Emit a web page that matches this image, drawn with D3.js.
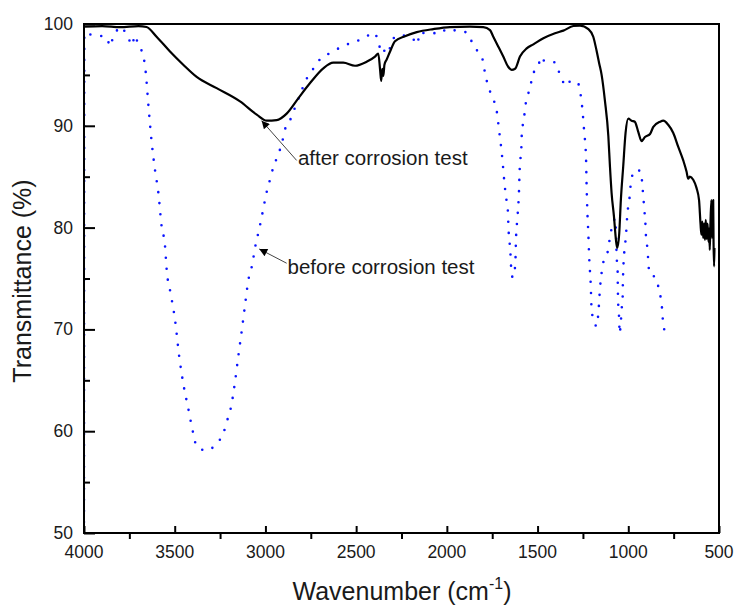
<!DOCTYPE html>
<html>
<head>
<meta charset="utf-8">
<script src="https://cdn.jsdelivr.net/npm/d3@7"></script>
<style>
body { margin: 0; background: #fff; }
text { font-family: "Liberation Sans", Arial, sans-serif; fill: #1a1a1a; }
</style>
</head>
<body>
<svg id="chart" width="735" height="606"></svg>
<script>
// wavenumber (cm-1), transmittance (%)
var afterTest = [
    [4000,99.75],[3900,99.8],[3800,99.7],[3700,99.8],[3655,99.7],[3600,98.75],[3526,97.3],
    [3453,96.0],[3379,94.8],[3269,93.7],[3140,92.4],[3048,91.1],[2993,90.5],[2938,90.55],
    [2883,91.2],[2819,92.7],[2754,94.2],[2681,95.65],[2626,96.2],[2571,96.2],[2506,95.9],
    [2442,96.3],[2396,96.8],[2378,97.1],[2368,95.5],[2362,94.4],[2356,95.6],[2350,94.9],
    [2344,96.0],[2332,96.5],[2313,97.3],[2286,98.3],[2231,98.8],[2166,99.2],[2075,99.5],
    [1983,99.7],[1873,99.75],[1799,99.7],[1762,99.4],[1744,98.75],[1717,97.8],[1689,96.8],
    [1662,95.8],[1643,95.5],[1624,95.6],[1597,96.8],[1560,97.6],[1523,98.0],[1468,98.6],
    [1404,99.1],[1358,99.35],[1303,99.8],[1266,99.85],[1220,99.5],[1193,98.75],[1175,97.4],
    [1160,96.1],[1147,95.0],[1129,92.5],[1110,89.0],[1101,86.0],[1092,83.4],[1079,81.1],
    [1068,78.8],[1061,78.0],[1050,79.4],[1041,82.7],[1028,86.0],[1015,89.3],[1000,90.7],
    [982,90.5],[964,90.4],[945,89.4],[927,88.5],[908,88.9],[880,89.2],[862,89.9],[825,90.4],
    [807,90.5],[780,90.1],[752,89.3],[725,87.95],[697,86.6],[679,85.5],[670,84.8],[661,85.0],
    [642,84.7],[624,83.9],[610,82.7],[602,80.4],[597,79.3],[592,80.6],[587,79.0],[582,80.4],
    [577,78.8],[573,80.75],[568,78.9],[563,80.4],[558,78.6],[554,79.9],[551,77.8],[547,80.5],
    [542,82.7],[539,79.0],[535,82.2],[532,82.7],[530,78.5],[527,76.2],[525,78.0]
];

var beforeTest = [
    [4000,50],[3998,99.1],[3950,98.9],[3900,98.8],[3870,98.6],[3860,97.8],[3845,98.4],
    [3825,99.0],[3810,99.7],[3790,99.6],[3765,98.9],[3750,98.4],[3735,97.9],[3720,98.9],
    [3700,97.9],[3683,97.4],[3670,96.6],[3660,95.3],[3645,92.0],[3627,88.4],[3609,85.7],
    [3590,83.4],[3572,80.1],[3554,78.3],[3544,75.8],[3522,73.5],[3498,70.9],[3475,67.3],
    [3453,64.7],[3425,62.2],[3398,59.8],[3379,58.5],[3324,58.1],[3269,58.8],[3232,59.8],
    [3210,61.1],[3190,62.35],[3168,64.8],[3150,67.3],[3131,69.8],[3113,72.3],[3094,74.85],
    [3076,76.1],[3052,78.5],[3035,79.8],[3021,81.0],[3008,82.2],[2993,83.5],[2975,84.7],
    [2957,85.9],[2929,87.2],[2909,88.3],[2892,89.65],[2855,90.9],[2837,91.8],[2810,93.0],
    [2782,94.3],[2740,95.5],[2696,96.6],[2635,97.2],[2577,97.8],[2516,98.2],[2457,98.6],
    [2402,99.15],[2378,98.3],[2359,97.1],[2341,97.4],[2323,97.1],[2304,98.4],[2258,98.9],
    [2212,98.75],[2185,98.5],[2161,98.0],[2152,99.15],[2112,99.1],[2071,99.1],[2029,99.1],
    [2005,99.5],[1974,99.4],[1937,99.35],[1891,99.15],[1872,98.6],[1845,97.6],[1817,97.1],
    [1799,96.2],[1790,95.2],[1772,93.9],[1750,92.8],[1726,91.55],[1717,90.3],[1707,88.8],
    [1698,87.45],[1689,85.7],[1683,84.45],[1670,82.5],[1663,81.46],[1661,80.2],[1656,78.9],
    [1650,77.6],[1645,75.9],[1637,75.1],[1623,76.3],[1619,78.8],[1610,81.2],[1602,83.8],
    [1600,85.0],[1597,86.3],[1590,87.45],[1588,88.8],[1582,90.0],[1575,90.7],[1569,91.7],
    [1560,92.7],[1545,93.5],[1533,94.5],[1527,95.2],[1510,95.4],[1491,96.2],[1478,96.8],
    [1465,96.4],[1450,96.3],[1422,96.3],[1395,96.1],[1382,95.3],[1367,94.6],[1340,93.9],
    [1318,94.4],[1281,94.3],[1263,93.1],[1254,91.8],[1243,89.4],[1233,86.9],[1230,84.35],
    [1226,81.8],[1220,79.3],[1215,76.9],[1207,74.4],[1202,71.9],[1187,70.7],[1175,70.3],
    [1165,71.6],[1156,74.0],[1138,76.55],[1110,77.9],[1101,79.1],[1083,80.4],[1073,80.9],
    [1067,79.0],[1064,77.1],[1059,76.0],[1058,74.7],[1057,73.5],[1055,72.2],[1050,70.9],
    [1048,69.6],[1041,70.75],[1037,71.9],[1031,73.2],[1030,74.4],[1028,75.7],[1025,76.9],
    [1019,78.1],[1012,79.4],[1008,80.6],[1001,82.0],[992,83.1],[986,84.35],[964,85.65],
    [930,85.55],[923,84.25],[917,83.0],[912,81.8],[906,80.55],[903,79.3],[895,78.0],
    [890,76.8],[884,75.5],[844,75.0],[831,73.8],[816,72.5],[811,71.25],[802,70.0]
];

var xMajorTicks = [4000, 3500, 3000, 2500, 2000, 1500, 1000, 500];
var xMinorTicks = [3750, 3250, 2750, 2250, 1750, 1250, 750];
var yMajorTicks = [50, 60, 70, 80, 90, 100];
var yMinorTicks = [55, 65, 75, 85, 95];

// label text, label position [wn, T], arrow tail [wn, T], arrow tip [wn, T]
var notes = [
    {text: 'after corrosion test', at: [2821, 86.15], tail: [2828, 86.6], tip: [3021, 90.5]},
    {text: 'before corrosion test', at: [2878, 75.45], tail: [2883, 76.5], tip: [3034, 77.9]}
];

var svg = d3.select('#chart');
var plotL = 84, plotT = 24, plotR = 719, plotB = 533;

var x = d3.scaleLinear().domain([4000, 500]).range([plotL, plotR]);
var y = d3.scaleLinear().domain([50, 100]).range([plotB, plotT]);

var line = d3.line()
    .curve(d3.curveMonotoneX)
    .x(function(d) { return x(d[0]); })
    .y(function(d) { return y(d[1]); });

svg.append('clipPath').attr('id', 'plotclip')
    .append('rect')
    .attr('x', plotL).attr('y', plotT - 1)
    .attr('width', plotR - plotL).attr('height', plotB - plotT + 1);

var plot = svg.append('g').attr('clip-path', 'url(#plotclip)');

plot.append('path')
    .datum(beforeTest)
    .attr('d', line)
    .attr('fill', 'none')
    .attr('stroke', '#0a14ff')
    .attr('stroke-width', 2.6)
    .attr('stroke-linecap', 'round')
    .attr('stroke-dasharray', '0 11');

plot.append('path')
    .datum(afterTest)
    .attr('d', line)
    .attr('fill', 'none')
    .attr('stroke', '#000')
    .attr('stroke-width', 2.2)
    .attr('stroke-linejoin', 'round');

// frame
svg.append('rect')
    .attr('x', plotL).attr('y', plotT)
    .attr('width', plotR - plotL).attr('height', plotB - plotT)
    .attr('fill', 'none').attr('stroke', '#000').attr('stroke-width', 2);

// x axis: major ticks inward, minor outward
var xMajor = d3.axisTop(x).tickValues(xMajorTicks).tickSize(7).tickFormat('');
var xg = svg.append('g').attr('transform', 'translate(0,' + plotB + ')').call(xMajor);
xg.select('.domain').remove();
xg.selectAll('line').attr('stroke', '#000').attr('stroke-width', 2);

var xMinor = d3.axisBottom(x).tickValues(xMinorTicks).tickSize(6).tickFormat('');
var xmg = svg.append('g').attr('transform', 'translate(0,' + plotB + ')').call(xMinor);
xmg.select('.domain').remove();
xmg.selectAll('line').attr('stroke', '#000').attr('stroke-width', 2);

svg.append('g').selectAll('text')
    .data(xMajorTicks).enter().append('text')
    .attr('x', function(d) { return x(d); })
    .attr('y', 558)
    .attr('text-anchor', 'middle')
    .attr('font-size', '17.5px')
    .text(function(d) { return d; });

// y axis: ticks inward
var yMajor = d3.axisRight(y).tickValues(yMajorTicks).tickSize(11).tickFormat('');
var yg = svg.append('g').attr('transform', 'translate(' + plotL + ',0)').call(yMajor);
yg.select('.domain').remove();
yg.selectAll('line').attr('stroke', '#000').attr('stroke-width', 2);

var yMinor = d3.axisRight(y).tickValues(yMinorTicks).tickSize(6).tickFormat('');
var ymg = svg.append('g').attr('transform', 'translate(' + plotL + ',0)').call(yMinor);
ymg.select('.domain').remove();
ymg.selectAll('line').attr('stroke', '#000').attr('stroke-width', 2);

svg.append('g').selectAll('text')
    .data(yMajorTicks).enter().append('text')
    .attr('x', 73)
    .attr('y', function(d) { return y(d) + 6; })
    .attr('text-anchor', 'end')
    .attr('font-size', '17.5px')
    .text(function(d) { return d; });

// axis titles
svg.append('text')
    .attr('transform', 'translate(31,281) rotate(-90)')
    .attr('text-anchor', 'middle')
    .attr('font-size', '25px')
    .text('Transmittance (%)');

var xt = svg.append('text')
    .attr('x', 402).attr('y', 600)
    .attr('text-anchor', 'middle')
    .attr('font-size', '25px');
xt.append('tspan').text('Wavenumber (cm');
xt.append('tspan').attr('font-size', '16px').attr('dy', -11).text('-1');
xt.append('tspan').attr('dy', 11).text(')');

// annotations
svg.append('defs').append('marker')
    .attr('id', 'arrowhead')
    .attr('viewBox', '0 0 10 10')
    .attr('refX', 10).attr('refY', 5)
    .attr('markerWidth', 12).attr('markerHeight', 8)
    .attr('markerUnits', 'userSpaceOnUse')
    .attr('orient', 'auto')
    .append('path').attr('d', 'M0,0 L10,5 L0,10 Z').attr('fill', '#000');

notes.forEach(function(n) {
    svg.append('line')
        .attr('x1', x(n.tail[0])).attr('y1', y(n.tail[1]))
        .attr('x2', x(n.tip[0])).attr('y2', y(n.tip[1]))
        .attr('stroke', '#444').attr('stroke-width', 1)
        .attr('marker-end', 'url(#arrowhead)');
    svg.append('text')
        .attr('x', x(n.at[0])).attr('y', y(n.at[1]))
        .attr('font-size', '20.5px')
        .text(n.text);
});
</script>
</body>
</html>
